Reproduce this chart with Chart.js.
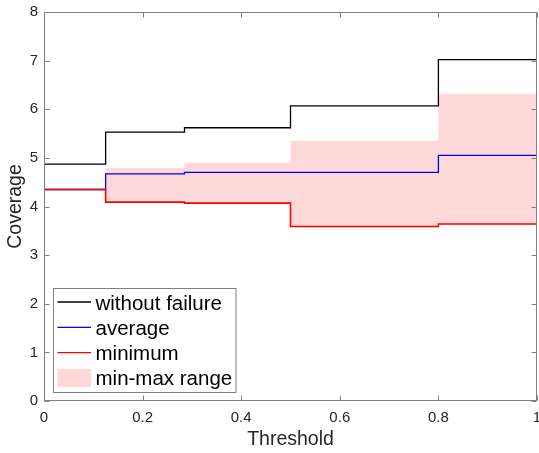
<!DOCTYPE html>
<html lang="en">
<head>
<meta charset="UTF-8">
<title>Coverage vs Threshold</title>
<script src="https://cdn.jsdelivr.net/npm/chart.js"></script>
<style>
  body { margin: 0; background: #fff; }
  canvas { display: block; }
</style>
</head>
<body>
<canvas id="chartCanvas" width="539" height="453"></canvas>
<script>
// step edges on the threshold axis (last edge just closes the final step)
const thresholds = [0, 0.125, 0.285, 0.5, 0.8, 1];
const withoutFailure = [4.87, 5.53, 5.62, 6.07, 7.02, 7.02];
const average = [4.35, 4.67, 4.70, 4.70, 5.05, 5.05];
const minimum = [4.35, 4.09, 4.07, 3.59, 3.64, 3.64];
const maximum = [4.35, 4.79, 4.90, 5.35, 6.32, 6.32];

const legendLabels = ['without failure', 'average', 'minimum', 'min-max range'];
const xTicks = [0, 0.2, 0.4, 0.6, 0.8, 1];
const yTicks = [0, 1, 2, 3, 4, 5, 6, 7, 8];

const FONT = '"Liberation Sans", Arial, Helvetica, sans-serif';
const TEXT = '#262626';
const AXIS = '#808080';
const PINK = 'rgb(255, 217, 217)';

const toPoints = ys => thresholds.map((x, i) => ({ x: x, y: ys[i] }));

// matlab style box: frame, inward ticks on all four sides, legend inside
const matlabBox = {
    id: 'matlabBox',
    afterDraw(chart) {
        const ctx = chart.ctx;
        const area = chart.chartArea;
        const xs = chart.scales.x, ys = chart.scales.y;
        const L = Math.round(area.left) + 0.5, R = Math.round(area.right) - 0.5;
        const T = Math.round(area.top) + 0.5, B = Math.round(area.bottom) - 0.5;
        ctx.save();
        ctx.strokeStyle = AXIS;
        ctx.lineWidth = 1;
        ctx.strokeRect(L, T, R - L, B - T);
        ctx.beginPath();
        xTicks.forEach(v => {
            const px = Math.round(xs.getPixelForValue(v)) + 0.5;
            ctx.moveTo(px, B); ctx.lineTo(px, B - 5);
            ctx.moveTo(px, T); ctx.lineTo(px, T + 5);
        });
        yTicks.forEach(v => {
            const py = Math.round(ys.getPixelForValue(v)) + 0.5;
            ctx.moveTo(L, py); ctx.lineTo(L + 5, py);
            ctx.moveTo(R, py); ctx.lineTo(R - 5, py);
        });
        ctx.stroke();

        // legend
        const bx = 53.5, by = 288.5, bw = 182.5, bh = 104;
        ctx.fillStyle = '#fff';
        ctx.fillRect(bx, by, bw, bh);
        ctx.strokeRect(bx, by, bw, bh);
        const colors = ['#000000', '#0000ff', '#ff0000', PINK];
        ctx.font = '20.5px ' + FONT;
        ctx.textAlign = 'left';
        ctx.textBaseline = 'alphabetic';
        legendLabels.forEach((lab, i) => {
            const cy = 302 + i * 25.3;
            if (i < 3) {
                ctx.strokeStyle = colors[i];
                ctx.lineWidth = 1.3;
                ctx.beginPath();
                ctx.moveTo(57.5, cy); ctx.lineTo(91, cy);
                ctx.stroke();
            } else {
                ctx.fillStyle = colors[i];
                ctx.fillRect(57.5, cy - 9, 33.5, 18);
            }
            ctx.fillStyle = '#000';
            ctx.fillText(lab, 95.5, cy + 7.5);
        });
        ctx.restore();
    }
};

const ctx = document.getElementById('chartCanvas').getContext('2d');
const chart = new Chart(ctx, {
    type: 'line',
    data: {
        datasets: [
            {
                label: 'min-max range',
                data: toPoints(maximum),
                stepped: true,
                borderWidth: 0,
                borderColor: 'rgba(0,0,0,0)',
                backgroundColor: PINK,
                fill: 3,
                pointRadius: 0,
                order: 10
            },
            {
                label: 'without failure',
                data: toPoints(withoutFailure),
                stepped: true,
                borderColor: '#000000',
                borderWidth: 1.3,
                fill: false,
                pointRadius: 0,
                order: 3
            },
            {
                label: 'average',
                data: toPoints(average),
                stepped: true,
                borderColor: '#0000ff',
                borderWidth: 1.3,
                fill: false,
                pointRadius: 0,
                order: 2
            },
            {
                label: 'minimum',
                data: toPoints(minimum),
                stepped: true,
                borderColor: '#ff0000',
                borderWidth: 1.6,
                fill: false,
                pointRadius: 0,
                order: 1
            }
        ]
    },
    options: {
        responsive: false,
        animation: false,
        events: [],
        layout: { padding: { top: 12, right: 2, bottom: 0, left: 0 } },
        plugins: {
            legend: { display: false },
            tooltip: { enabled: false }
        },
        scales: {
            x: {
                type: 'linear',
                min: 0,
                max: 1,
                afterBuildTicks: s => { s.ticks = xTicks.map(v => ({ value: v })); },
                afterFit: s => { s.height = 52; s.paddingLeft = 0; s.paddingRight = 0; },
                grid: { display: false, drawTicks: false },
                border: { display: false },
                ticks: {
                    font: { size: 15, family: FONT },
                    color: TEXT,
                    padding: 8,
                    maxRotation: 0,
                    autoSkip: false,
                    callback: v => String(v)
                },
                title: {
                    display: true,
                    text: 'Threshold',
                    font: { size: 19.5, family: FONT },
                    color: TEXT,
                    padding: { top: 0, bottom: 2 }
                }
            },
            y: {
                min: 0,
                max: 8,
                afterBuildTicks: s => { s.ticks = yTicks.map(v => ({ value: v })); },
                afterFit: s => { s.width = 44; s.paddingTop = 0; s.paddingBottom = 0; },
                grid: { display: false, drawTicks: false },
                border: { display: false },
                ticks: {
                    font: { size: 15, family: FONT },
                    color: TEXT,
                    padding: 6,
                    autoSkip: false
                },
                title: {
                    display: true,
                    text: 'Coverage',
                    font: { size: 19.5, family: FONT },
                    color: TEXT,
                    padding: { top: 4, bottom: 0 }
                }
            }
        }
    },
    plugins: [matlabBox]
});
</script>
</body>
</html>
